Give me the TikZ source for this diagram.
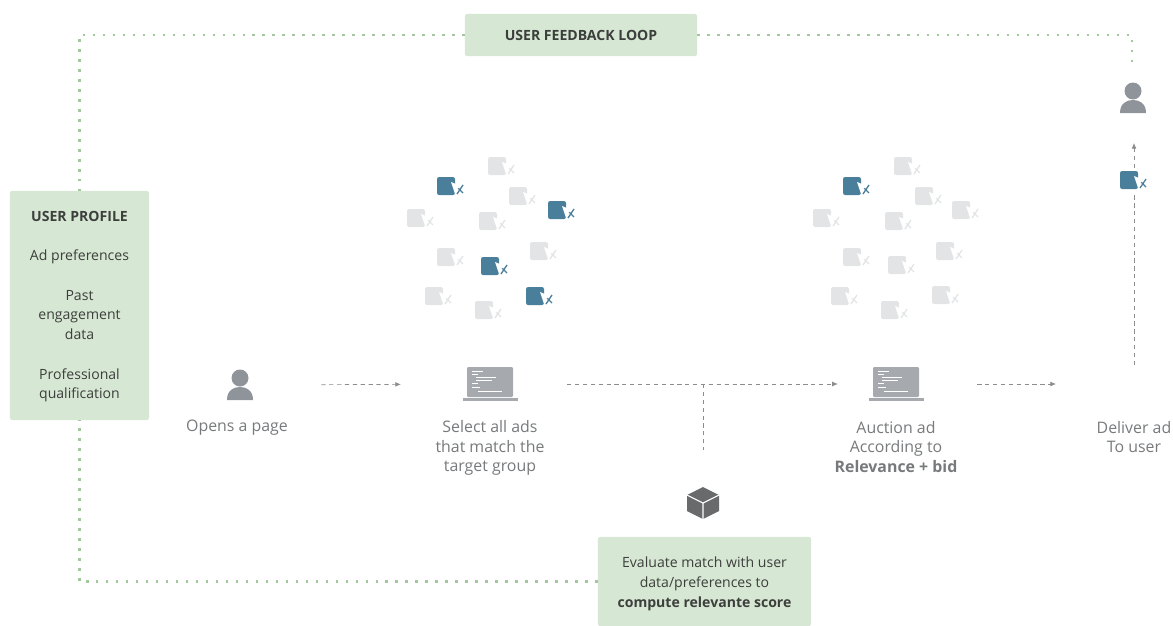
\documentclass[tikz,border=0pt]{standalone}
\usepackage{fontspec}
\setmainfont{Open Sans}
\usetikzlibrary{arrows.meta}

\definecolor{boxgreen}{HTML}{D6E7D3}
\definecolor{dotgreen}{HTML}{A3C89D}
\definecolor{adblue}{HTML}{4A7F9B}
\definecolor{adgrey}{HTML}{E3E4E5}
\definecolor{icongrey}{HTML}{8F949B}
\definecolor{pcgrey}{HTML}{A6A9AD}
\definecolor{cubegrey}{HTML}{686A6C}
\definecolor{flowgrey}{HTML}{8C8C8C}
\definecolor{labelgrey}{HTML}{77797B}
\definecolor{boxtext}{HTML}{3C3F3C}

\tikzset{
    greenbox/.style={rectangle, fill=boxgreen, rounded corners=1.5pt, text=boxtext, align=center, inner sep=0pt, font=\fontsize{10}{14}\selectfont},
    steptext/.style={text=labelgrey, align=center, inner sep=0pt, font=\fontsize{11.3}{14}\selectfont},
    iconslot/.style={circle, inner sep=0pt, minimum size=1.1cm},
    flow/.style={draw=flowgrey, line width=0.5pt, dash pattern=on 3pt off 2.6pt, -{Latex[length=4pt,width=3.4pt]}},
    flowplain/.style={draw=flowgrey, line width=0.5pt, dash pattern=on 3pt off 2.6pt},
    loopline/.style={draw=dotgreen, line width=1.8pt, dash pattern=on 1.8pt off 5.3pt},
    personicon/.pic={
        \fill[icongrey] (0,-7) circle (8.5);
        \fill[icongrey] (-13,15) .. controls (-13,5) and (-6,2) .. (0,2) .. controls (6,2) and (13,5) .. (13,15) -- cycle;
    },
    pcicon/.pic={
        \fill[pcgrey, rounded corners=0.8pt] (-23,-17) rectangle (23,13);
        \fill[pcgrey] (-27,14) rectangle (28,17);
        \draw[white, line width=0.5pt] (-18,-13) -- (-7,-13) (-18,-10) -- (-12,-10) (-14,-7) -- (6,-7) (-14,-4) -- (2,-4) (-18,-1) -- (-12,-1) (-18,3) -- (-10,3) (-12,7) -- (12,7);
    },
    cubeicon/.pic={
        \fill[cubegrey] (0,-16) -- (16,-8) -- (16,8) -- (0,16) -- (-16,8) -- (-16,-8) -- cycle;
        \draw[white, line width=0.8pt] (-16,-8) -- (0,0) -- (16,-8) (0,0) -- (0,16);
    },
    adicon/.pic={
        \fill[#1, rounded corners=1.5pt] (-9,-9) rectangle (9,9);
        \draw[#1, line width=0.9pt] (10,0) -- (17,7) (17,-1) -- (11,8);
        \fill[white] (5,-4) -- (15,0) -- (11,3) -- (9,8) -- cycle;
    },
}

\begin{document}
\begin{tikzpicture}[x=0.025cm, y=-0.025cm]
    \path[use as bounding box] (0,0) rectangle (1173,626);

    % Green boxes
    \node[greenbox, minimum width=5.8cm, minimum height=1.05cm, font=\fontsize{10}{14}\selectfont\bfseries] (feedback) at (581,35) {USER FEEDBACK LOOP};
    \node[greenbox, minimum width=3.475cm, minimum height=5.725cm] (profile) at (79.5,305.5) {\rule{0pt}{9pt}{\bfseries USER PROFILE}\\[14pt]Ad preferences\\[14pt]Past\\engagement\\data\\[14pt]Professional\\qualification};
    \node[greenbox, minimum width=5.325cm, minimum height=2.225cm] (evaluate) at (704.5,581.5) {\rule{0pt}{11pt}Evaluate match with user\\data/preferences to\\{\bfseries compute relevante score}};

    % Icons
    \node[iconslot] (openspage) at (240,385) {};
    \node[iconslot] (selectpc) at (490,384) {};
    \node[iconslot] (auctionpc) at (896,384) {};
    \node[iconslot] (topuser) at (1133,98) {};
    \node[iconslot] (cube) at (703,503) {};
    \pic at (openspage) {personicon};
    \pic at (selectpc) {pcicon};
    \pic at (auctionpc) {pcicon};
    \pic at (topuser) {personicon};
    \pic at (cube) {cubeicon};

    % Labels
    \node[steptext] (openslabel) at (237,428) {Opens a page};
    \node[steptext] (selectlabel) at (490,448) {Select all ads\\that match the\\target group};
    \node[steptext] (auctionlabel) at (896,447) {Auction ad\\According to\\{\bfseries Relevance + bid}};
    \node[steptext] (deliverlabel) at (1134,437) {Deliver ad\\To user};

    % Ads of the first group
    \pic at (497,166) {adicon=adgrey};
    \pic at (518,196) {adicon=adgrey};
    \pic at (416,218) {adicon=adgrey};
    \pic at (488,221) {adicon=adgrey};
    \pic at (539,251) {adicon=adgrey};
    \pic at (446,257) {adicon=adgrey};
    \pic at (434,296) {adicon=adgrey};
    \pic at (484,310) {adicon=adgrey};
    \pic at (446,186) {adicon=adblue};
    \pic at (557,210) {adicon=adblue};
    \pic at (490,266) {adicon=adblue};
    \pic at (535,296) {adicon=adblue};

    % Ads of the auction group
    \pic at (903,166) {adicon=adgrey};
    \pic at (924,196) {adicon=adgrey};
    \pic at (961,210) {adicon=adgrey};
    \pic at (822,218) {adicon=adgrey};
    \pic at (894,221) {adicon=adgrey};
    \pic at (945,251) {adicon=adgrey};
    \pic at (852,257) {adicon=adgrey};
    \pic at (897,265) {adicon=adgrey};
    \pic at (840,296) {adicon=adgrey};
    \pic at (941,295) {adicon=adgrey};
    \pic at (890,310) {adicon=adgrey};
    \pic at (852,186) {adicon=adblue};

    % Free ends of the connectors
    \coordinate (branch) at (703,384);
    \coordinate (deliverin) at (1056,384);
    \coordinate (deliverout) at (1134,365);
    \coordinate (arrowtop) at (1134,143);
    \coordinate (loopend) at (1132,62);

    % Connect the nodes
    \draw[flow, shorten <=42pt, shorten >=47.5pt] (openspage) -- (selectpc);
    \draw[flow, shorten <=39pt, shorten >=25.5pt] (selectpc) -- (auctionpc);
    \draw[flowplain, shorten >=22pt] (branch) -- (cube);
    \draw[flow, shorten <=42pt] (auctionpc) -- (deliverin);
    \draw[flow] (deliverout) -- (arrowtop);

    % Delivered ad sits on top of the arrow
    \fill[white] (1120,170) rectangle (1148,192);
    \pic at (1129,180) {adicon=adblue};

    % Feedback loop
    \draw[loopline] (feedback.west) -| (profile.north);
    \draw[loopline] (feedback.east) -| (loopend);
    \draw[loopline] (evaluate.west) -| (profile.south);
\end{tikzpicture}
\end{document}
